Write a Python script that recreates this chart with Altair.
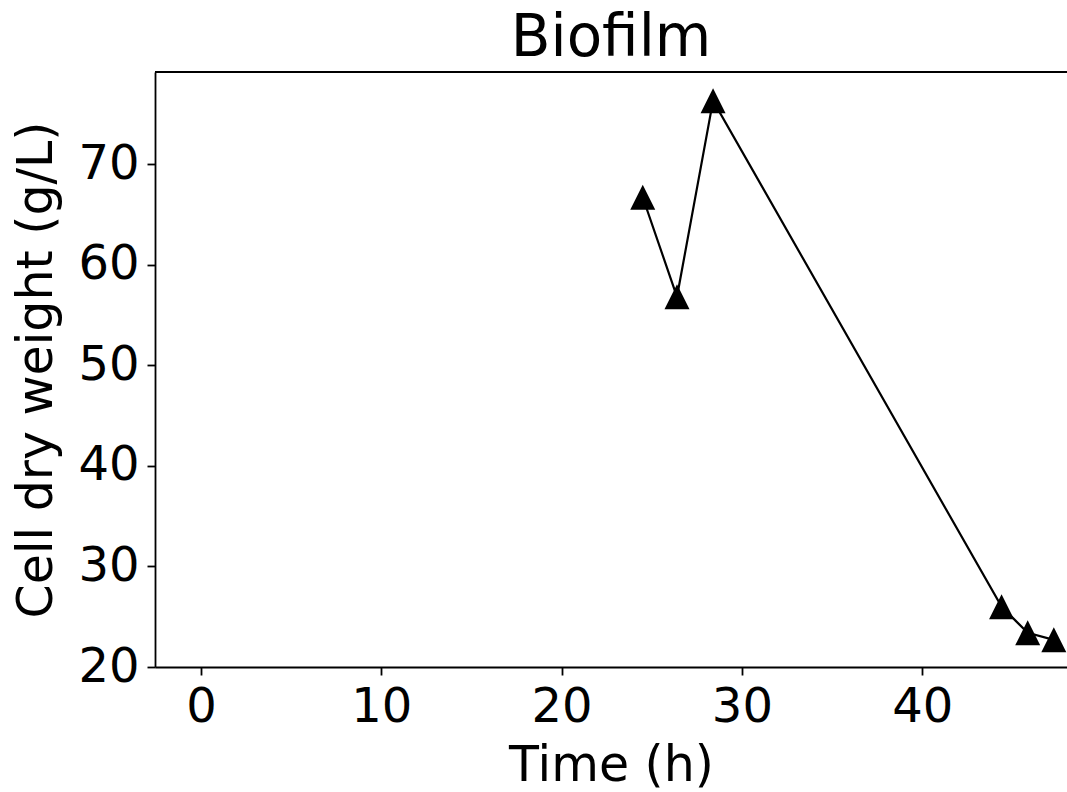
import altair as alt
import pandas as pd

time_h = [24.5, 26.4, 28.4, 44.4, 45.85, 47.3]
cdw = [66.7, 56.8, 76.3, 26.0, 23.4, 22.7]
x_ticks = [0, 10, 20, 30, 40]
y_ticks = [20, 30, 40, 50, 60, 70]

df = pd.DataFrame({"t": time_h, "w": cdw})

W, H = 912, 595
FONT = "DejaVu Sans"

x_enc = alt.X("t:Q", scale=alt.Scale(domain=[-2.55, 48.03], nice=False, zero=False),
              axis=alt.Axis(values=x_ticks, title="Time (h)", grid=False,
                            labelFontSize=48, titleFontSize=49, labelFont=FONT, titleFont=FONT,
                            labelColor="black", titleColor="black", titleFontWeight="normal",
                            domainColor="black", domainWidth=1.8, tickColor="black",
                            tickWidth=1.8, tickSize=8, labelPadding=8, titlePadding=10,
                            labelFlush=False, labelOverlap=False))
y_enc = alt.Y("w:Q", scale=alt.Scale(domain=[20, 79.15], nice=False, zero=False),
              axis=alt.Axis(values=y_ticks, title="Cell dry weight (g/L)", grid=False,
                            labelFontSize=48, titleFontSize=49, labelFont=FONT, titleFont=FONT,
                            labelColor="black", titleColor="black", titleFontWeight="normal",
                            domainColor="black", domainWidth=1.8, tickColor="black",
                            tickWidth=1.8, tickSize=8, labelPadding=8, titlePadding=16,
                            labelFlush=False, labelOverlap=False))

line = alt.Chart(df).mark_line(color="black", strokeWidth=2.2).encode(x=x_enc, y=y_enc)
pts = alt.Chart(df).mark_point(shape="M0,-1L1,1L-1,1Z", filled=True, color="black",
                               opacity=1, size=625).encode(x="t:Q", y="w:Q")
top = alt.Chart(pd.DataFrame({"a": [0]})).mark_rule(color="black", strokeWidth=1.8).encode(
    x=alt.value(0), x2=alt.value(W), y=alt.value(0))

chart = alt.layer(line, pts, top).properties(
    width=W, height=H,
    title=alt.TitleParams("Biofilm", fontSize=58, font=FONT, fontWeight="normal",
                          color="black", offset=3),
    autosize=alt.AutoSizeParams(type="none"),
    padding={"left": 155, "top": 72, "right": 0, "bottom": 125},
).configure_view(stroke=None).configure(background="white")

chart.save("out.html", embed_options={"renderer": "svg", "actions": False})
